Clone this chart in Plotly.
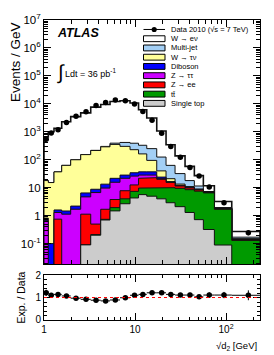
import plotly.graph_objects as go

# ---------------- data ----------------
edges = [1.0, 1.115, 1.288, 1.565, 1.965, 2.531, 3.26, 4.2, 5.313, 6.842, 8.814,
         10.93, 13.45, 17.32, 21.91, 27.52, 35.44, 44.84, 56.3, 74.4, 115.5, 236.0]

single_top = [0, 0, 0, 0, 0, 0.09, 0.2, 0.70, 1.48, 2.67, 4.3, 5.65, 4.97, 4.0, 2.9, 2.1, 1.3, 0.72, 0.32, 0.089, 0]
ttbar = [0, 0, 0, 0, 0, 0, 0.01, 0.04, 0.46, 1.33, 3.1, 4.05, 5.2, 6.0, 7.1, 7.4, 7.2, 6.8, 6.2, 1.6, 0.13]
z_ee = [0, 0, 0.75, 0, 0, 1.04, 0.29, 0.95, 1.84, 3.8, 5.2, 12.0, 12.7, 10.0, 5.5, 2.0, 1.3, 0.8, 0.2, 0.06, 0.01]
z_tautau = [0.66, 0, 0.55, 1.13, 1.7, 3.57, 6.2, 8.0, 11.9, 13.9, 13.4, 6.6, 5.4, 1.0, 0.3, 0.2, 0.1, 0.05, 0.05, 0.01, 0.0]
diboson = [0.16, 0.1, 0.3, 0.34, 0.5, 1.8, 2.1, 3.7, 6.0, 6.6, 8.3, 8.7, 8.7, 3.0, 0.7, 0.5, 0.4, 0.25, 0.1, 0.04, 0.005]
w_taunu = [17.2, 15.2, 35.4, 61.5, 97.8, 146.5, 206, 277, 332, 273, 195, 125, 58, 16, 4.5, 1.3, 0.7, 0.4, 0.15, 0.05, 0.005]
multijet = [0, 0, 0, 0, 0, 0, 2, 10, 39, 115, 161, 168, 155, 85, 42, 18.5, 7, 2.5, 0.3, 0.1, 0.02]
w_enu = [635, 985, 1308, 2237, 3390, 4607, 7443, 9140, 11707, 12454, 10390, 5790, 2860, 940, 280, 106, 40, 15.5, 4.4, 1.25, 0.1]

data = [540, 910, 1180, 2150, 3600, 5170, 8700, 11100, 13600, 13000, 9800, 5370, 2570,
        880, 301, 124, 52.5, 26.1, 10.5, 2.9, 0.244]
data_err = [70, 80, 70, 90, 110, 130, 160, 180, 190, 180, 150, 110, 70, 35, 18, 9, 5, 3, 1.3, 0.4, 0.045]

ratio = [1.21, 1.10, 1.14, 1.07, 0.97, 0.92, 0.88, 0.85, 0.89, 0.99, 1.10, 1.14, 1.21,
         1.21, 1.14, 1.11, 1.11, 1.03, 1.11, 1.11, 1.10]
ratio_err = [0.14, 0.09, 0.07, 0.05, 0.04, 0.03, 0.03, 0.03, 0.03, 0.03, 0.03, 0.03, 0.04,
             0.05, 0.07, 0.08, 0.10, 0.10, 0.12, 0.14, 0.22]

y_tickvals = [0.1, 1, 10, 100, 1e3, 1e4, 1e5, 1e6, 1e7]
y_ticktext = ["10<sup>-1</sup>", "1", "10", "10<sup>2</sup>", "10<sup>3</sup>", "10<sup>4</sup>",
              "10<sup>5</sup>", "10<sup>6</sup>", "10<sup>7</sup>"]
x_tickvals = [1, 10, 100]
x_ticktext = ["1", "10", "10<sup>2</sup>"]

# stack order bottom -> top
components = [
    ("Single top", single_top, "#cccccc"),
    ("t\u0074\u0304", ttbar, "#009a00"),
    ("Z \u2192 ee", z_ee, "#ff0000"),
    ("Z \u2192 \u03c4\u03c4", z_tautau, "#cc00ff"),
    ("Diboson", diboson, "#0000ff"),
    ("W \u2192 \u03c4\u03bd", w_taunu, "#ffff99"),
    ("Multi-jet", multijet, "#a3cff5"),
    ("W \u2192 e\u03bd", w_enu, "#ffffff"),
]

# ---------------- layout geometry ----------------
W, H = 274, 355
ML, MR, MT, MB = 44, 14, 13, 35
PW, PH = W - ML - MR, H - MT - MB


def px2x(px):
    return (px - ML) / PW


def py2y(py):
    return (H - MB - py) / PH


FLOOR = 1e-3
nb = len(edges) - 1

fig = go.Figure()

# cumulative stacks
cum = []
running = [0.0] * nb
for name, vals, col in components:
    running = [r + v for r, v in zip(running, vals)]
    cum.append((name, list(running), col))

for name, c, col in reversed(cum):
    xs = [edges[0]]
    ys = [FLOOR]
    for i in range(nb):
        v = c[i] if c[i] > 0 else FLOOR
        xs += [edges[i], edges[i + 1]]
        ys += [v, v]
    xs += [edges[-1], edges[0]]
    ys += [FLOOR, FLOOR]
    lw = 1.6 if name.startswith("W \u2192 e") else 1.0
    fig.add_trace(go.Scatter(x=xs, y=ys, mode="lines", fill="toself", fillcolor=col,
                             line=dict(color="#111111", width=lw), hoverinfo="skip",
                             showlegend=False, xaxis="x", yaxis="y"))

centers = [(edges[i] + edges[i + 1]) / 2 for i in range(nb)]
ex_plus = [edges[i + 1] - centers[i] for i in range(nb)]
ex_minus = [centers[i] - edges[i] for i in range(nb)]

fig.add_trace(go.Scatter(x=centers, y=data, mode="markers",
                         marker=dict(color="black", size=5.5),
                         error_y=dict(type="data", array=data_err, color="black", thickness=1, width=0),
                         showlegend=False, xaxis="x", yaxis="y"))

# ratio panel
fig.add_trace(go.Scatter(x=centers, y=ratio, mode="markers",
                         marker=dict(color="black", size=5.5),
                         error_y=dict(type="data", array=ratio_err, color="black", thickness=1, width=0),
                         error_x=dict(type="data", symmetric=False, array=ex_plus, arrayminus=ex_minus,
                                      color="black", thickness=1, width=0),
                         showlegend=False, xaxis="x2", yaxis="y2"))

fig.add_shape(type="line", xref="x2", yref="y2", x0=edges[0], x1=edges[-1], y0=1, y1=1,
              line=dict(color="red", width=1, dash="dot"))

# ---------------- manual legend ----------------
legend_labels = ["Data 2010 (\u221as = 7 TeV)"] + [c[0] for c in reversed(components)]
legend_colors = [None] + [c[2] for c in reversed(components)]
leg_y0, leg_dy = 22.7, 9.45
bx0, bx1, tx = 143.5, 165, 169
for k, (lab, col) in enumerate(zip(legend_labels, legend_colors)):
    yc = leg_y0 + k * leg_dy
    if col is None:
        fig.add_shape(type="line", xref="paper", yref="paper", x0=px2x(bx0), x1=px2x(bx1),
                      y0=py2y(yc), y1=py2y(yc), line=dict(color="black", width=1))
        r = 2.6
        fig.add_shape(type="circle", xref="paper", yref="paper", x0=px2x(154.2 - r), x1=px2x(154.2 + r),
                      y0=py2y(yc + r), y1=py2y(yc - r), fillcolor="black", line=dict(color="black", width=0))
    else:
        fig.add_shape(type="rect", xref="paper", yref="paper", x0=px2x(bx0), x1=px2x(bx1),
                      y0=py2y(yc + 3), y1=py2y(yc - 3), fillcolor=col,
                      line=dict(color="black", width=1))
    fig.add_annotation(x=px2x(tx), y=py2y(yc), xref="paper", yref="paper", text=lab,
                       showarrow=False, xanchor="left", yanchor="middle",
                       font=dict(size=7.5, color="black"))

# ---------------- texts ----------------
FONT = "Liberation Sans, Arial, Helvetica, sans-serif"
fig.add_annotation(x=px2x(55), y=py2y(26), xref="paper", yref="paper", text="<b><i>ATLAS</i></b>",
                   showarrow=False, xanchor="left", yanchor="middle", font=dict(size=12.5, color="black"))
fig.add_annotation(x=px2x(55), y=py2y(67), xref="paper", yref="paper", text="\u222b",
                   showarrow=False, xanchor="left", yanchor="middle", font=dict(size=20, color="black"))
fig.add_annotation(x=px2x(63), y=py2y(67), xref="paper", yref="paper", text="Ldt = 36 pb<sup>-1</sup>",
                   showarrow=False, xanchor="left", yanchor="middle", font=dict(size=9, color="black"))
fig.add_annotation(x=px2x(15), y=1.0, xref="paper", yref="paper", text="Events / GeV",
                   showarrow=False, xanchor="center", yanchor="top", textangle=-90,
                   font=dict(size=13.5, color="black"))
fig.add_annotation(x=px2x(21), y=py2y(297), xref="paper", yref="paper", text="Exp. / Data",
                   showarrow=False, xanchor="center", yanchor="middle", textangle=-90,
                   font=dict(size=10.5, color="black"))
fig.add_annotation(x=px2x(259), y=py2y(347), xref="paper", yref="paper",
                   text="\u221ad<sub>2</sub> [GeV]",
                   showarrow=False, xanchor="right", yanchor="middle", font=dict(size=9.5, color="black"))

xminor = [k * 10 ** n for n in range(0, 3) for k in range(2, 10) if k * 10 ** n < edges[-1]]
yminor = [k * 10.0 ** n for n in range(-2, 7) for k in range(2, 10)]

axis_common = dict(showline=True, linecolor="black", linewidth=1, mirror="allticks",
                   ticks="inside", ticklen=7, tickcolor="black", tickwidth=1,
                   showgrid=False, zeroline=False)

xr = [0, 2.3729]
fig.update_layout(
    width=W, height=H,
    margin=dict(l=ML, r=MR, t=MT, b=MB, pad=0),
    paper_bgcolor="white", plot_bgcolor="white",
    font=dict(family=FONT, color="black"),
    showlegend=False,
    xaxis=dict(type="log", range=xr, anchor="y", domain=[0, 1],
               tickvals=x_tickvals, showticklabels=False,
               minor=dict(tickvals=xminor, ticks="inside", ticklen=4, tickcolor="black", showgrid=False),
               **axis_common),
    yaxis=dict(type="log", range=[-1.74, 7], domain=[py2y(263), 1], anchor="x",
               tickvals=y_tickvals, ticktext=y_ticktext, tickfont=dict(size=11.5),
               minor=dict(tickvals=yminor, ticks="inside", ticklen=4, tickcolor="black", showgrid=False),
               **axis_common),
    xaxis2=dict(type="log", range=xr, anchor="y2", domain=[0, 1], matches="x",
                tickvals=x_tickvals, ticktext=x_ticktext, tickfont=dict(size=10),
                minor=dict(tickvals=xminor, ticks="inside", ticklen=3, tickcolor="black", showgrid=False),
                **axis_common),
    yaxis2=dict(range=[0, 2], domain=[0, py2y(274)], anchor="x2",
                tickvals=[0, 1, 2], tickfont=dict(size=10),
                minor=dict(dtick=0.2, ticks="inside", ticklen=3, tickcolor="black", showgrid=False),
                **axis_common),
)

fig.write_html("out.html", config={"displayModeBar": False},
               post_script="document.body.style.margin='0';document.body.style.overflow='hidden';")
